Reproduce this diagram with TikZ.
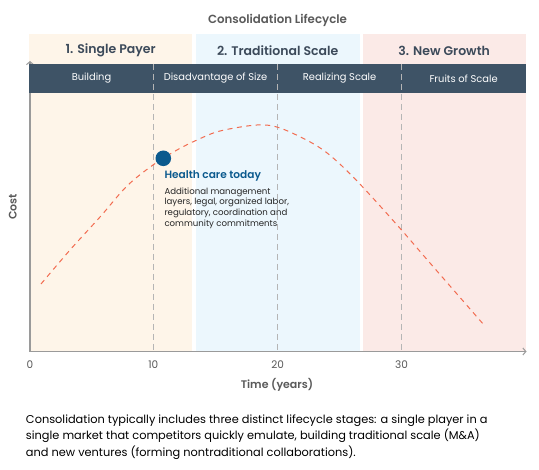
\documentclass[tikz,border=0pt]{standalone}
\usepackage{fontspec}
\setmainfont{Poppins}
\IfFontExistsTF{Poppins SemiBold}{\newfontfamily\medfont{Poppins SemiBold}}{%
  \IfFontExistsTF{Poppins Medium}{\newfontfamily\medfont{Poppins Medium}}{\newcommand\medfont{\bfseries}}}
\usetikzlibrary{arrows.meta}
\definecolor{colA}{HTML}{FEF5E9}
\definecolor{colB}{HTML}{ECF7FD}
\definecolor{colC}{HTML}{FBEAE7}
\definecolor{bandc}{HTML}{3E5366}
\definecolor{headc}{HTML}{3C4A5A}
\definecolor{greyt}{HTML}{5A5A5A}
\definecolor{axisc}{HTML}{9A9A9A}
\definecolor{dashc}{HTML}{B5B5B5}
\definecolor{curvec}{HTML}{F26C50}
\definecolor{dotc}{HTML}{0B5A8E}
\begin{document}
\begin{tikzpicture}[x=1pt,y=-1pt,
  titlet/.style={font=\fontsize{11.8}{14}\selectfont\medfont, text=greyt},
  headt/.style={font=\fontsize{12.5}{14}\selectfont\medfont, text=headc},
  bandt/.style={font=\fontsize{9.9}{11}\selectfont, text=white},
  tickt/.style={font=\fontsize{10.5}{12}\selectfont, text=greyt},
  axlab/.style={font=\fontsize{11}{12}\selectfont\medfont, text=greyt},
  axisline/.style={draw=axisc, line width=1.3pt, -{Straight Barb[length=3pt,width=7pt,line width=1pt]}},
  vdash/.style={draw=dashc, line width=0.8pt, dash pattern=on 6pt off 4pt},
  curve/.style={draw=curvec, line width=1pt, dash pattern=on 5pt off 4.5pt},
  inner sep=0pt, outer sep=0pt]
\useasboundingbox (0,0) rectangle (539,470);
\fill[white] (0,0) rectangle (539,470);
% column backgrounds
\fill[colA] (29.3,34) rectangle (192,351);
\fill[colB] (196,34) rectangle (359.5,351);
\fill[colC] (362.7,34) rectangle (525.7,351);
% title and headers
\node[titlet] (title) at (277.5,20.5) {Consolidation Lifecycle};
\node[headt] (h1) at (110.7,50.5) {1. Single Payer};
\node[headt] (h2) at (277.7,50.5) {2. Traditional Scale};
\node[headt] (h3) at (444.2,50.5) {3. New Growth};
% axes
\coordinate (o) at (30,351.5);
\coordinate (ytop) at (30,61);
\coordinate (xend) at (526.5,351.5);
\draw[axisline] (o) -- (ytop);
% band
\fill[bandc] (29.3,64) rectangle (525.7,93);
% dashed dividers
\foreach \xx in {153.3,277.7,401.5}{
  \draw[vdash] (\xx,64) -- (\xx,350);
}
\node[bandt] (b1) at (91.5,78.5) {Building};
\node[bandt] (b2) at (215.5,78.5) {Disadvantage of Size};
\node[bandt] (b3) at (339.6,78.5) {Realizing Scale};
\node[bandt] (b4) at (463.6,78.5) {Fruits of Scale};
\draw[axisline] (29.3,351.5) -- (xend);
% curve
\draw[curve] plot[smooth, tension=0.55] coordinates {
 (41,284) (70,250) (100,217) (127,186) (153,165) (177,150) (197,140)
 (220,131) (257,125) (280,128) (312,143) (332,157) (358,182) (398,226)
 (430,263) (484,325)};
% dot and annotation
\fill[dotc] (163.3,158.3) circle (7.8);
\node[anchor=west, font=\fontsize{10.6}{12}\selectfont\medfont, text=dotc] (hc) at (164.5,175.5) {Health care today};
\node[anchor=north west, align=left, font=\fontsize{8.6}{10.9}\selectfont, text=black!85] (desc) at (164.5,187.5)
 {Additional management\\layers, legal, organized labor,\\regulatory, coordination and\\community commitments};
% tick labels
\node[tickt] (t0) at (30,364.5) {0};
\node[tickt] (t10) at (153.3,364.5) {10};
\node[tickt] (t20) at (277.7,364.5) {20};
\node[tickt] (t30) at (401.5,364.5) {30};
\node[axlab] (xl) at (277,384.5) {Time (years)};
\node[axlab, rotate=90] (yl) at (12.7,207) {Cost};
% caption
\node[anchor=north west, align=left, font=\fontsize{11.35}{16.5}\selectfont, text=black] (cap) at (26,414.5)
 {Consolidation typically includes three distinct lifecycle stages: a single player in a\\
  single market that competitors quickly emulate, building traditional scale (M\&A)\\
  and new ventures (forming nontraditional collaborations).};
\end{tikzpicture}
\end{document}
